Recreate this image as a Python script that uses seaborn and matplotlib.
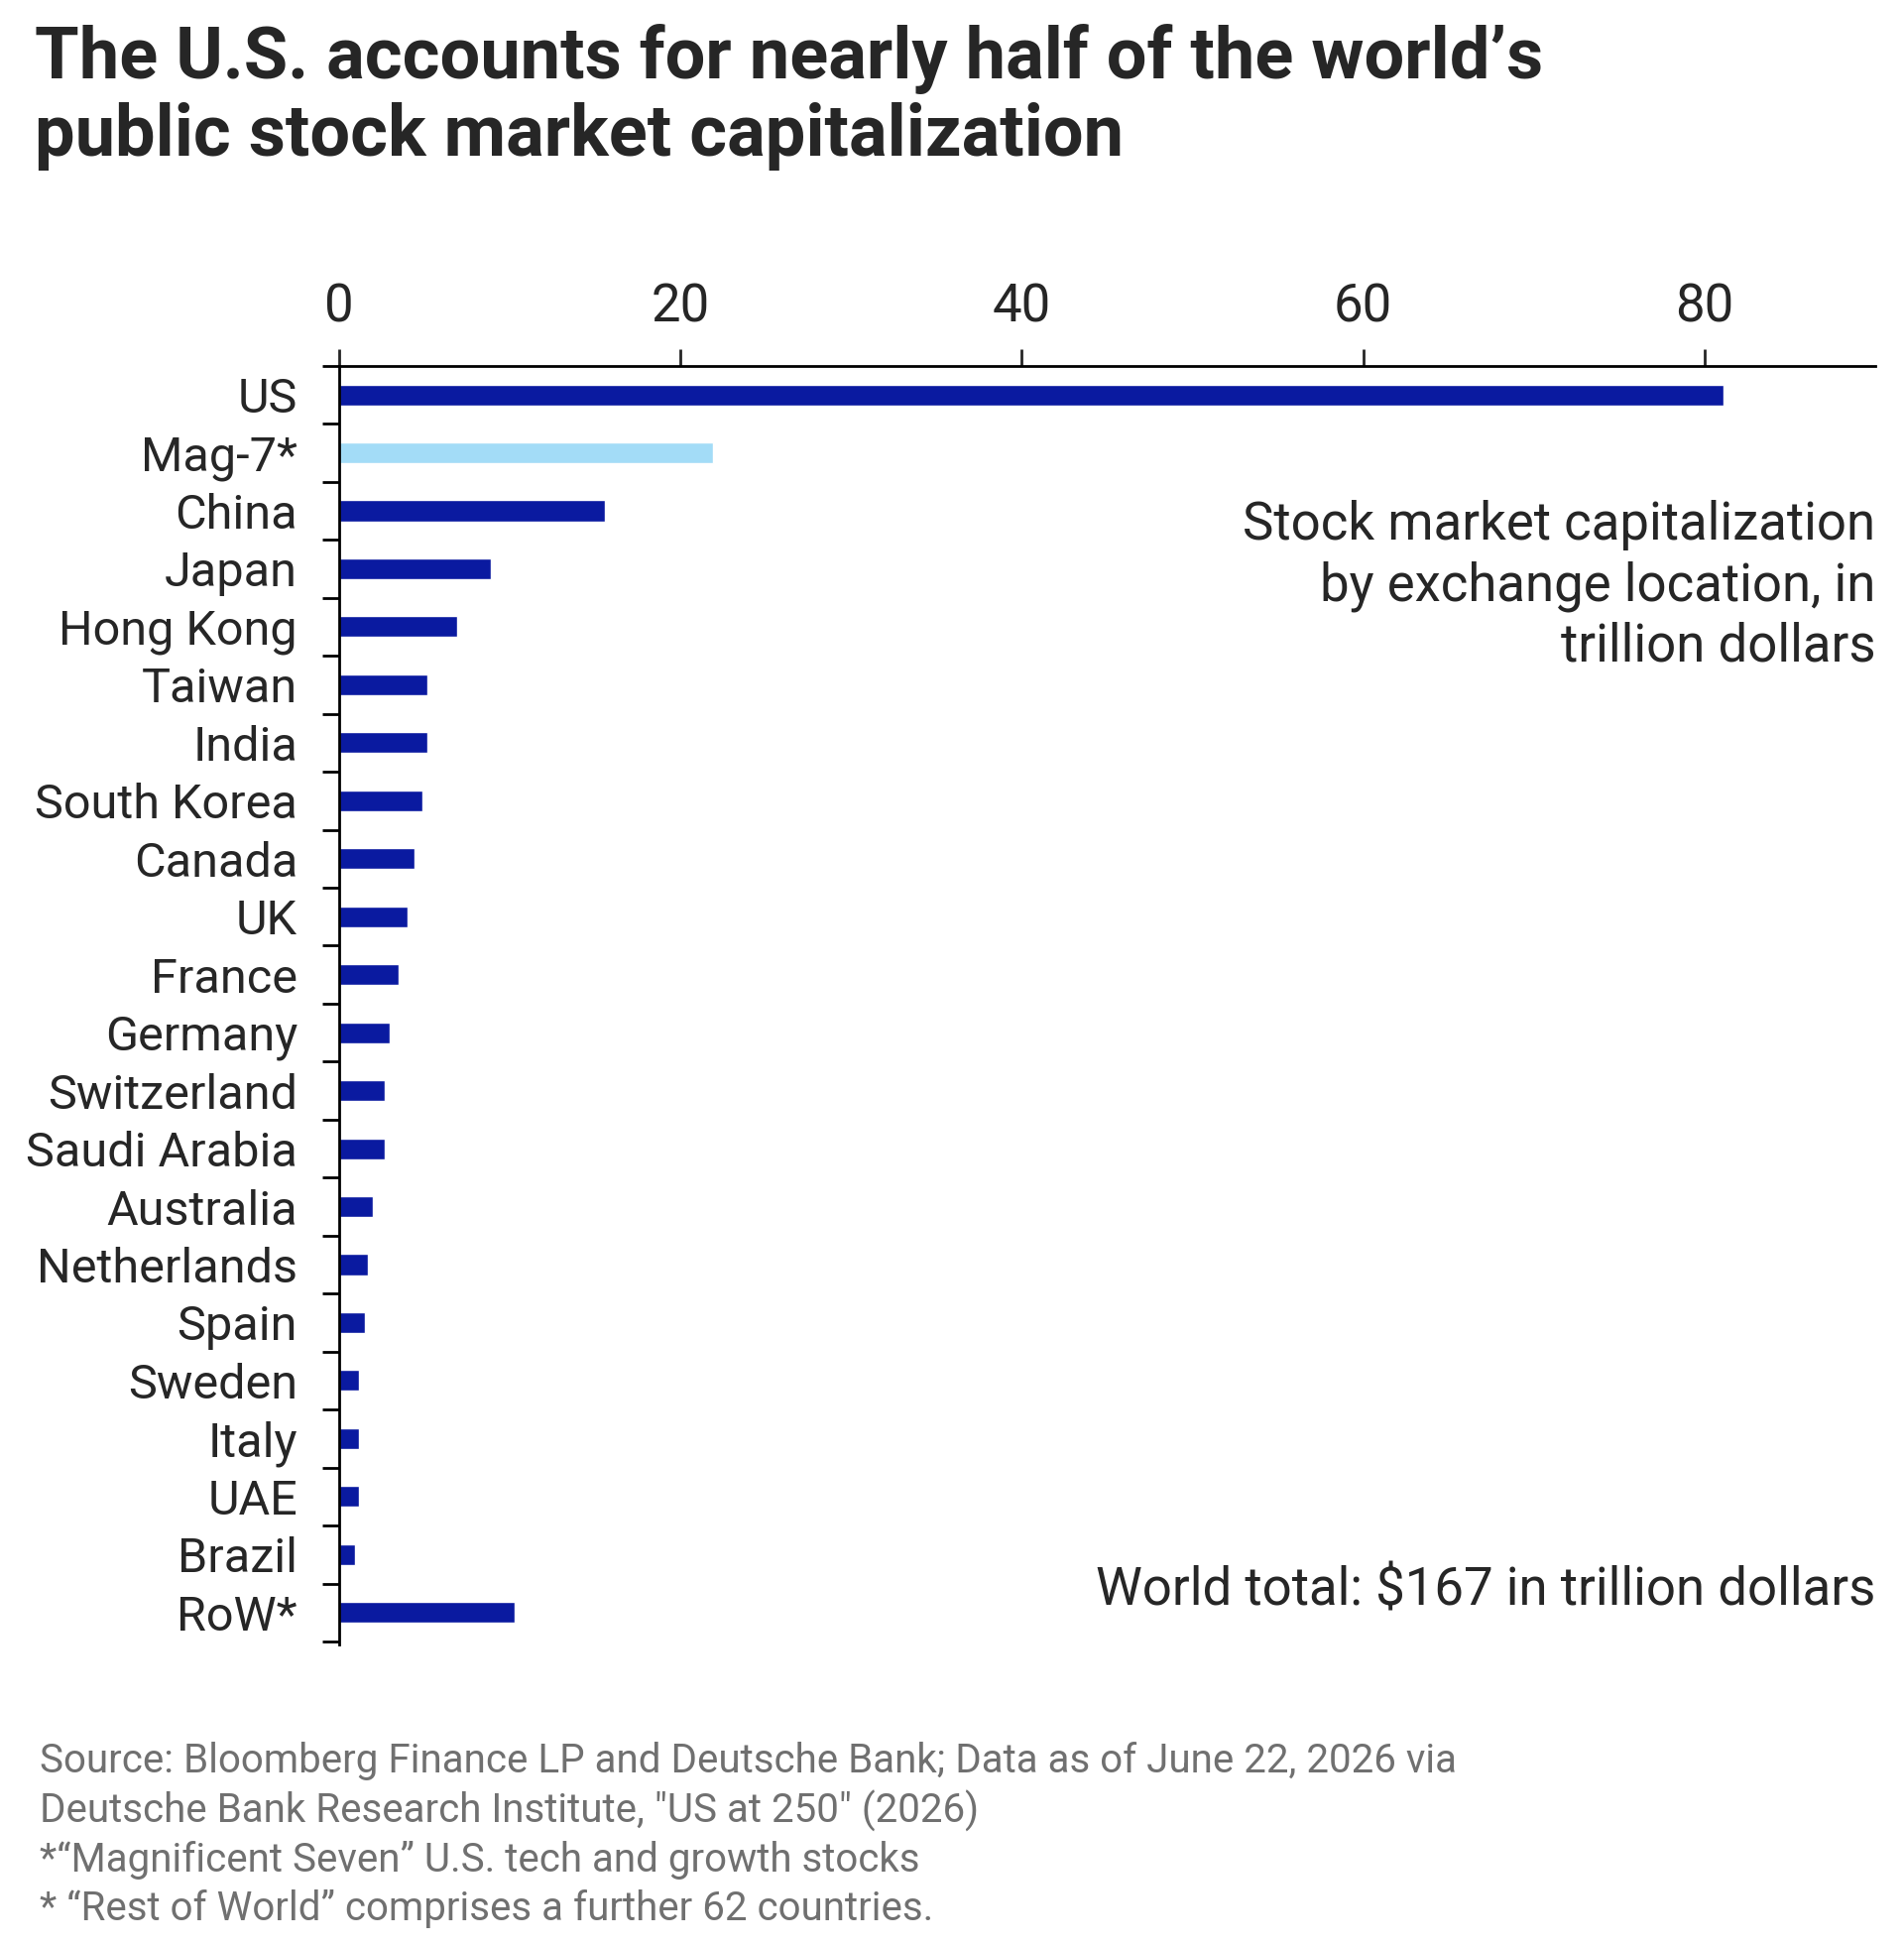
import matplotlib
matplotlib.use("Agg")
import matplotlib.pyplot as plt
import seaborn as sns
import pandas as pd
import numpy as np

countries = ["US", "Mag-7*", "China", "Japan", "Hong Kong", "Taiwan", "India", "South Korea",
             "Canada", "UK", "France", "Germany", "Switzerland", "Saudi Arabia", "Australia",
             "Netherlands", "Spain", "Sweden", "Italy", "UAE", "Brazil", "RoW*"]
market_cap = [81.1, 21.9, 15.6, 8.9, 6.9, 5.2, 5.2, 4.9, 4.4, 4.0, 3.5, 3.0, 2.7, 2.7, 2.0,
              1.7, 1.5, 1.2, 1.2, 1.15, 0.95, 10.3]
colors = ["#0a1aa0" if c != "Mag-7*" else "#a3dcf7" for c in countries]

df = pd.DataFrame({"country": countries, "cap": market_cap})

sns.set_style("white")
plt.rcParams["font.family"] = ["Roboto", "DejaVu Sans"]

fig = plt.figure(figsize=(19.2, 19.62), dpi=100)
ax = fig.add_axes([0.178, 0.155, 0.807, 0.657])
sns.barplot(data=df, x="cap", y="country", hue="country", palette=colors, legend=False,
            width=0.36, ax=ax, orient="h", saturation=1)

ax.set_xlim(0, 90)
ax.set_ylim(len(countries) - 0.5 + 0.05, -0.5)
ax.xaxis.tick_top()
ax.set_xticks([0, 20, 40, 60, 80])
ax.tick_params(axis="x", labelsize=38, length=12, width=2, direction="out", pad=12, top=True)
ax.set_yticks(np.arange(-0.5, len(countries)), minor=True)
ax.tick_params(axis="y", which="major", labelsize=35, length=0, pad=30)
ax.tick_params(axis="y", which="minor", left=True, length=12, width=2, direction="out",
               color="black")
ax.set_xlabel("")
ax.set_ylabel("")
for s in ["right", "bottom"]:
    ax.spines[s].set_visible(False)
for s in ["top", "left"]:
    ax.spines[s].set_linewidth(2)
    ax.spines[s].set_color("black")

ax.text(1.0, 0.895, "Stock market capitalization\nby exchange location, in\ntrillion dollars",
        transform=ax.transAxes, ha="right", va="top", fontsize=38, linespacing=1.25)
ax.text(1.0, 0.042, "World total: $167 in trillion dollars", transform=ax.transAxes,
        ha="right", va="center", fontsize=38)

fig.text(0.018, 0.988, "The U.S. accounts for nearly half of the world\u2019s\npublic stock market capitalization",
         ha="left", va="top", fontsize=52, fontweight="bold", linespacing=1.15)
fig.text(0.021, 0.105,
         "Source: Bloomberg Finance LP and Deutsche Bank; Data as of June 22, 2026 via\n"
         "Deutsche Bank Research Institute, \"US at 250\" (2026)\n"
         "*\u201cMagnificent Seven\u201d U.S. tech and growth stocks\n"
         "* \u201cRest of World\u201d comprises a further 62 countries.",
         ha="left", va="top", fontsize=29, color="#707070", linespacing=1.3)

fig.savefig("out.png", dpi=100, facecolor="white")
